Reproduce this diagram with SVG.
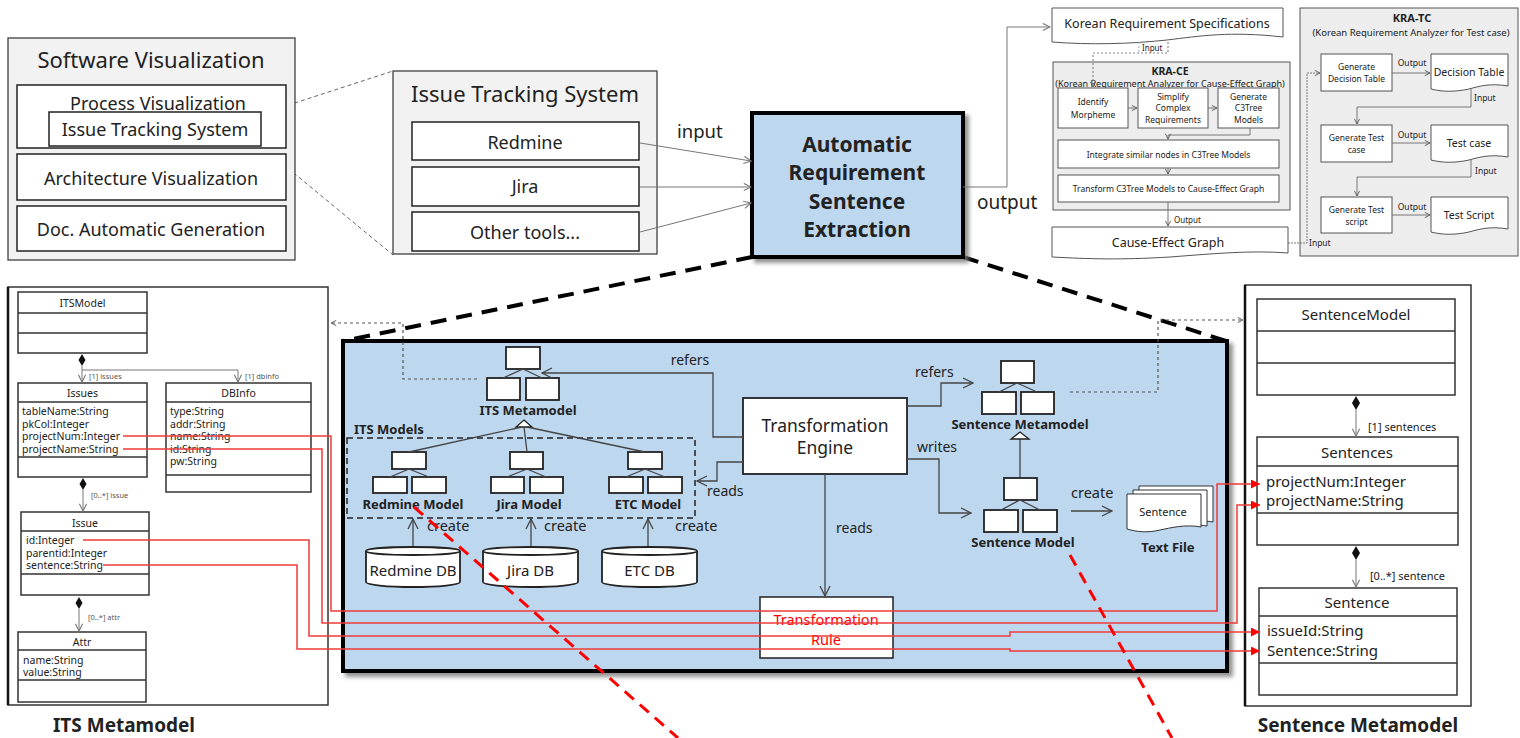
<svg xmlns="http://www.w3.org/2000/svg" width="1520" height="738" viewBox="0 0 1520 738">
<style>
text{font-family:"Noto Sans","DejaVu Sans",sans-serif;fill:#222}
.b{font-weight:bold}
.m{text-anchor:middle}
.panel{fill:#f2f2f2;stroke:#404040;stroke-width:1.3}
.kra{fill:#ededed;stroke:#555;stroke-width:1}
.wb{fill:#fff;stroke:#222;stroke-width:1.5}
.sb{fill:#fff;stroke:#555;stroke-width:1}
.uml{fill:#fff;stroke:#333;stroke-width:1.5}
.dv{stroke:#333;stroke-width:1.5}
.ln{fill:none;stroke:#444;stroke-width:1.3}
.gl{fill:none;stroke:#777;stroke-width:1}
.dot{fill:none;stroke:#555;stroke-width:1.2;stroke-dasharray:3 3}
.gd{fill:none;stroke:#666;stroke-width:1;stroke-dasharray:4 3}
.red{fill:none;stroke:#f03c3c;stroke-width:1.5}
.bd{fill:none;stroke:#000;stroke-width:4;stroke-dasharray:16 10}
.rd{fill:none;stroke:#f00;stroke-width:3;stroke-dasharray:12 8}
.ic{fill:#fff;stroke:#222;stroke-width:1.8}
.dia{fill:#111}
.sm{font-size:8.5px}
.rel{font-size:7.5px;fill:#555}
</style>
<defs>
<marker id="oa" viewBox="0 0 12 12" refX="11" refY="6" markerWidth="12" markerHeight="12" markerUnits="userSpaceOnUse" orient="auto"><path d="M1,1 L11,6 L1,11" fill="none" stroke="#444" stroke-width="1.3"/></marker>
<marker id="ga" viewBox="0 0 10 10" refX="9" refY="5" markerWidth="9" markerHeight="9" markerUnits="userSpaceOnUse" orient="auto"><path d="M1,1 L9,5 L1,9" fill="none" stroke="#777" stroke-width="1.2"/></marker>
<marker id="sa" viewBox="0 0 8 8" refX="7" refY="4" markerWidth="7" markerHeight="7" markerUnits="userSpaceOnUse" orient="auto"><path d="M1,1 L7,4 L1,7" fill="none" stroke="#555" stroke-width="1"/></marker>
<marker id="ra" viewBox="0 0 10 10" refX="10" refY="5" markerWidth="10" markerHeight="9" markerUnits="userSpaceOnUse" orient="auto"><path d="M0,0 L10,5 L0,10 Z" fill="#f00"/></marker>
<filter id="sh" x="-5%" y="-5%" width="115%" height="120%"><feDropShadow dx="4" dy="4" stdDeviation="2" flood-color="#777" flood-opacity="0.8"/></filter>
</defs>

<!-- zoom-out guides -->
<g id="guides">
<path class="gd" d="M261,114 L393,71 M261,146 L393,255"/>
<path class="bd" d="M752,257 L343,341 M963,257 L1226,341"/>
</g>

<g id="software-visualization">
<rect class="panel" x="8" y="38" width="287" height="222"/>
<text x="151" y="68" class="m" font-size="22">Software Visualization</text>
<rect class="wb" x="17" y="85" width="269" height="63"/>
<text x="158" y="110" class="m" font-size="18">Process Visualization</text>
<rect class="wb" x="49" y="112" width="212" height="34"/>
<text x="155" y="136" class="m" font-size="18">Issue Tracking System</text>
<rect class="wb" x="17" y="154" width="269" height="46"/>
<text x="151" y="185" class="m" font-size="18">Architecture Visualization</text>
<rect class="wb" x="17" y="206" width="269" height="45"/>
<text x="151" y="236" class="m" font-size="18">Doc. Automatic Generation</text>
</g>

<g id="issue-tracking-system">
<rect class="panel" x="393" y="71" width="264" height="183"/>
<text x="525" y="102" class="m" font-size="22">Issue Tracking System</text>
<rect class="wb" x="412" y="122" width="227" height="38"/>
<text x="525" y="149" class="m" font-size="18">Redmine</text>
<rect class="wb" x="412" y="167" width="227" height="39"/>
<text x="525" y="193" class="m" font-size="18">Jira</text>
<rect class="wb" x="412" y="212" width="227" height="39"/>
<text x="525" y="239" class="m" font-size="18">Other tools...</text>
</g>

<g id="main-extraction">
<rect x="752" y="113" width="211" height="144" fill="#bdd7ee" stroke="#000" stroke-width="4" filter="url(#sh)"/>
<text x="857" y="152" class="m b" font-size="21">Automatic</text>
<text x="857" y="180" class="m b" font-size="21">Requirement</text>
<text x="857" y="209" class="m b" font-size="21">Sentence</text>
<text x="857" y="237" class="m b" font-size="21">Extraction</text>
</g>

<g id="top-connectors">
<path class="gl" d="M640,143 L751,161" marker-end="url(#ga)"/>
<path class="gl" d="M640,187 L751,187" marker-end="url(#ga)"/>
<path class="gl" d="M640,232 L751,203" marker-end="url(#ga)"/>
<text x="677" y="138" font-size="18.5">input</text>
<path class="gl" d="M963,187 H1007 V27 H1050" marker-end="url(#ga)"/>
<text x="977" y="209" font-size="19">output</text>
</g>

<g id="korean-req-spec">
<path class="sb" d="M1052,8 H1283 V37 C1230,31 1200,36 1167,40 C1130,44 1090,45 1052,42 Z"/>
<text x="1167" y="28" class="m" font-size="12.5">Korean Requirement Specifications</text>
</g>

<g id="kra-ce">
<rect class="kra" x="1053" y="62" width="237" height="148"/>
<text x="1170" y="75" class="m b" font-size="10.5">KRA-CE</text>
<text x="1170" y="87" class="m" font-size="9">(Korean Requirement Analyzer for Cause-Effect Graph)</text>
<rect class="sb" x="1058" y="88" width="70" height="40"/>
<text x="1093" y="105" class="m sm">Identify</text>
<text x="1093" y="118" class="m sm">Morpheme</text>
<rect class="sb" x="1138" y="88" width="70" height="40"/>
<text x="1173" y="100" class="m sm">Simplify</text>
<text x="1173" y="111" class="m sm">Complex</text>
<text x="1173" y="123" class="m sm">Requirements</text>
<rect class="sb" x="1218" y="88" width="61" height="40"/>
<text x="1248.5" y="100" class="m sm">Generate</text>
<text x="1248.5" y="111" class="m sm">C3Tree</text>
<text x="1248.5" y="123" class="m sm">Models</text>
<rect class="sb" x="1058" y="140" width="221" height="28"/>
<text x="1168.5" y="158" class="m sm">Integrate similar nodes in C3Tree Models</text>
<rect class="sb" x="1058" y="175" width="221" height="27"/>
<text x="1168.5" y="192" class="m sm">Transform C3Tree Models to Cause-Effect Graph</text>
</g>

<g id="cause-effect-graph">
<path class="sb" d="M1052,227 H1288 V253 C1250,250 1210,254 1170,257 C1120,260 1090,259 1052,257 Z"/>
<text x="1168" y="247" class="m" font-size="12.5">Cause-Effect Graph</text>
</g>

<g id="kra-tc">
<rect class="kra" x="1300" y="8" width="218" height="248"/>
<text x="1412" y="22" class="m b" font-size="11">KRA-TC</text>
<text x="1411" y="36" class="m" font-size="9.5">(Korean Requirement Analyzer for Test case)</text>
<rect class="sb" x="1321" y="54" width="71" height="37"/>
<text x="1356.5" y="70" class="m sm">Generate</text>
<text x="1356.5" y="82" class="m sm">Decision Table</text>
<path class="sb" d="M1431,54 H1508 V86 C1490,83 1480,86 1469,89 C1455,92 1443,92 1431,89 Z"/>
<text x="1469" y="76" class="m" font-size="10.5">Decision Table</text>
<rect class="sb" x="1321" y="125" width="71" height="37"/>
<text x="1356.5" y="141" class="m sm">Generate Test</text>
<text x="1356.5" y="153" class="m sm">case</text>
<path class="sb" d="M1431,125 H1508 V157 C1490,154 1480,157 1469,160 C1455,163 1443,163 1431,160 Z"/>
<text x="1469" y="147" class="m" font-size="10.5">Test case</text>
<rect class="sb" x="1321" y="197" width="71" height="36"/>
<text x="1356.5" y="213" class="m sm">Generate Test</text>
<text x="1356.5" y="225" class="m sm">script</text>
<path class="sb" d="M1431,197 H1508 V229 C1490,226 1480,229 1469,232 C1455,235 1443,235 1431,232 Z"/>
<text x="1469" y="219" class="m" font-size="10.5">Test Script</text>
</g>

<g id="kra-connectors">
<path class="dot" d="M1168,42 V53 H1093 V87" marker-end="url(#sa)" style="stroke-dasharray:2 2;stroke:#888"/>
<path class="gl" d="M1139,42 V53" style="stroke-dasharray:2 2;stroke:#aaa"/>
<text x="1142" y="51" font-size="8" fill="#555">Input</text>
<path class="gl" d="M1128,108 H1137" marker-end="url(#sa)"/>
<path class="gl" d="M1208,108 H1217" marker-end="url(#sa)"/>
<path class="gl" d="M1250,128 V135 H1168 V139" marker-end="url(#sa)"/>
<path class="gl" d="M1168,168 V174" marker-end="url(#sa)"/>
<path class="gl" d="M1168,202 V226" marker-end="url(#sa)"/>
<text x="1174" y="223" font-size="8">Output</text>
<path class="gl" d="M1288,243 H1307 V73 H1320" marker-end="url(#sa)" style="stroke-dasharray:2 1"/>
<text x="1309" y="246" class="sm">Input</text>
<path class="gl" d="M1392,73 H1430" marker-end="url(#sa)"/>
<text x="1412" y="66" class="m sm">Output</text>
<path class="gl" d="M1471,89 V107 H1357 V124" marker-end="url(#sa)"/>
<text x="1474" y="101" class="sm">Input</text>
<path class="gl" d="M1392,143 H1430" marker-end="url(#sa)"/>
<text x="1412" y="138" class="m sm">Output</text>
<path class="gl" d="M1471,160 V177 H1357 V196" marker-end="url(#sa)"/>
<text x="1475" y="174" class="sm">Input</text>
<path class="gl" d="M1392,215 H1430" marker-end="url(#sa)"/>
<text x="1412" y="210" class="m sm">Output</text>
</g>

<g id="its-metamodel-panel">
<rect x="8" y="287" width="320" height="418" fill="#fff" stroke="#333" stroke-width="1.5"/>
<path d="M8,287 V705" stroke="#111" stroke-width="2.5"/>
<text x="124" y="732" class="m b" font-size="19">ITS Metamodel</text>
</g>
<g id="cls-itsmodel">
<rect class="uml" x="18" y="292" width="129" height="61"/>
<path class="dv" d="M18,313 H147 M18,333 H147"/>
<text x="82.5" y="307" class="m" font-size="10.5">ITSModel</text>
</g>
<g id="cls-issues">
<rect class="uml" x="18" y="383" width="129" height="94"/>
<path class="dv" d="M18,402 H147 M18,457 H147"/>
<text x="82.5" y="397" class="m" font-size="10.5">Issues</text>
<text x="22" y="415" font-size="10.5">tableName:String</text>
<text x="22" y="427.5" font-size="10.5">pkCol:Integer</text>
<text x="22" y="440" font-size="10.5">projectNum:Integer</text>
<text x="22" y="452.5" font-size="10.5">projectName:String</text>
</g>
<g id="cls-dbinfo">
<rect class="uml" x="166" y="383" width="145" height="109"/>
<path class="dv" d="M166,402 H311 M166,475 H311"/>
<text x="238.5" y="397" class="m" font-size="10.5">DBInfo</text>
<text x="170" y="415" font-size="10.5">type:String</text>
<text x="170" y="427.5" font-size="10.5">addr:String</text>
<text x="170" y="440" font-size="10.5">name:String</text>
<text x="170" y="452.5" font-size="10.5">id:String</text>
<text x="170" y="465" font-size="10.5">pw:String</text>
</g>
<g id="cls-issue">
<rect class="uml" x="21" y="512" width="128" height="83"/>
<path class="dv" d="M21,531 H149 M21,574 H149"/>
<text x="85" y="527" class="m" font-size="10.5">Issue</text>
<text x="26" y="544" font-size="10.5">id:Integer</text>
<text x="26" y="556.5" font-size="10.5">parentid:Integer</text>
<text x="26" y="569" font-size="10.5">sentence:String</text>
</g>
<g id="cls-attr">
<rect class="uml" x="18" y="632" width="128" height="70"/>
<path class="dv" d="M18,650 H146 M18,680 H146"/>
<text x="82" y="646" class="m" font-size="10.5">Attr</text>
<text x="23" y="664" font-size="10.5">name:String</text>
<text x="23" y="676" font-size="10.5">value:String</text>
</g>
<g id="its-relations">
<path class="dia" d="M82,354 L85.5,360 L82,366 L78.5,360 Z"/>
<path class="gl" d="M82,366 V382" marker-end="url(#ga)"/>
<path class="gl" d="M82,370 H238 V382" marker-end="url(#ga)"/>
<text x="89" y="379" class="rel">[1] issues</text>
<text x="245" y="379" class="rel">[1] dbinfo</text>
<path class="dia" d="M83,478 L86.5,484 L83,490 L79.5,484 Z"/>
<path class="gl" d="M83,490 V511" marker-end="url(#ga)"/>
<text x="91" y="498" class="rel">[0..*] issue</text>
<path class="dia" d="M79,597 L82.5,603 L79,609 L75.5,603 Z"/>
<path class="gl" d="M79,609 V631" marker-end="url(#ga)"/>
<text x="88" y="620" class="rel">[0..*] attr</text>
</g>

<g id="sentence-metamodel-panel">
<rect x="1245" y="285" width="226" height="421" fill="#fff" stroke="#333" stroke-width="1.5"/>
<path d="M1245,285 V706" stroke="#111" stroke-width="2.5"/>
<text x="1358" y="732" class="m b" font-size="19">Sentence Metamodel</text>
</g>
<g id="cls-sentencemodel">
<rect class="uml" x="1257" y="299" width="198" height="96"/>
<path class="dv" d="M1257,331 H1455 M1257,363 H1455"/>
<text x="1356" y="320" class="m" font-size="15">SentenceModel</text>
</g>
<g id="cls-sentences">
<rect class="uml" x="1257" y="437" width="201" height="108"/>
<path class="dv" d="M1257,466 H1458 M1257,513 H1458"/>
<text x="1357" y="458" class="m" font-size="15">Sentences</text>
<text x="1266" y="487" font-size="15">projectNum:Integer</text>
<text x="1266" y="506" font-size="15">projectName:String</text>
</g>
<g id="cls-sentence">
<rect class="uml" x="1259" y="588" width="198" height="107"/>
<path class="dv" d="M1259,616 H1457 M1259,663 H1457"/>
<text x="1357" y="608" class="m" font-size="15">Sentence</text>
<text x="1267" y="636" font-size="15">issueId:String</text>
<text x="1267" y="656" font-size="15">Sentence:String</text>
</g>
<g id="sentence-relations">
<path class="dia" d="M1356,396 L1360,403 L1356,410 L1352,403 Z"/>
<path class="gl" d="M1356,410 V436" marker-end="url(#ga)"/>
<text x="1368" y="431" font-size="11" fill="#555">[1] sentences</text>
<path class="dia" d="M1356,546 L1360,553 L1356,560 L1352,553 Z"/>
<path class="gl" d="M1356,560 V587" marker-end="url(#ga)"/>
<text x="1370" y="580" font-size="11" fill="#555">[0..*] sentence</text>
</g>

<g id="transformation-panel">
<rect x="343" y="341" width="884" height="330" fill="#bdd7ee" stroke="#000" stroke-width="4" filter="url(#sh)"/>
</g>

<g id="its-metamodel-icon">
<rect class="ic" x="506" y="347" width="34" height="22"/>
<rect class="ic" x="487" y="378" width="33" height="22"/>
<rect class="ic" x="526" y="378" width="33" height="22"/>
<path class="ln" d="M523,369 L503,378 M523,369 L542,378"/>
<text x="528" y="415" class="m b" font-size="13">ITS Metamodel</text>
<path d="M524,420 L532,427 L516,427 Z" fill="#fff" stroke="#222" stroke-width="1.3"/>
</g>
<g id="its-models">
<rect x="347" y="438" width="348" height="80" fill="none" stroke="#222" stroke-width="1.5" stroke-dasharray="6 4"/>
<text x="354" y="434" class="b" font-size="13">ITS Models</text>
</g>
<g id="redmine-model">
<rect class="ic" x="392" y="452" width="34" height="17"/>
<rect class="ic" x="373" y="477" width="34" height="16"/>
<rect class="ic" x="412" y="477" width="34" height="16"/>
<path class="ln" d="M409,469 L390,477 M409,469 L429,477"/>
<text x="413" y="509" class="m b" font-size="13">Redmine Model</text>
</g>
<g id="jira-model">
<rect class="ic" x="510" y="452" width="33" height="17"/>
<rect class="ic" x="491" y="477" width="33" height="16"/>
<rect class="ic" x="530" y="477" width="33" height="16"/>
<path class="ln" d="M527,469 L507,477 M527,469 L546,477"/>
<text x="529" y="509" class="m b" font-size="13">Jira Model</text>
</g>
<g id="etc-model">
<rect class="ic" x="628" y="452" width="34" height="17"/>
<rect class="ic" x="609" y="477" width="34" height="16"/>
<rect class="ic" x="648" y="477" width="34" height="16"/>
<path class="ln" d="M645,469 L626,477 M645,469 L665,477"/>
<text x="648" y="509" class="m b" font-size="13">ETC Model</text>
</g>
<g id="redmine-db">
<path d="M366,551 V582 A47,5 0 0 0 460,582 V551" fill="#fff" stroke="#222" stroke-width="1.8"/>
<ellipse cx="413" cy="551" rx="47" ry="4" fill="#fff" stroke="#222" stroke-width="1.8"/>
<text x="413" y="576" class="m" font-size="15">Redmine DB</text>
</g>
<g id="jira-db">
<path d="M483,551 V582 A47.5,5 0 0 0 578,582 V551" fill="#fff" stroke="#222" stroke-width="1.8"/>
<ellipse cx="530.5" cy="551" rx="47.5" ry="4" fill="#fff" stroke="#222" stroke-width="1.8"/>
<text x="530.5" y="576" class="m" font-size="15">Jira DB</text>
</g>
<g id="etc-db">
<path d="M602,551 V582 A47.5,5 0 0 0 697,582 V551" fill="#fff" stroke="#222" stroke-width="1.8"/>
<ellipse cx="649.5" cy="551" rx="47.5" ry="4" fill="#fff" stroke="#222" stroke-width="1.8"/>
<text x="649.5" y="576" class="m" font-size="15">ETC DB</text>
</g>
<g id="transformation-engine">
<rect x="743" y="398" width="164" height="76" fill="#fff" stroke="#222" stroke-width="1.8"/>
<text x="825" y="432" class="m" font-size="17.5">Transformation</text>
<text x="825" y="454" class="m" font-size="17.5">Engine</text>
</g>
<g id="transformation-rule">
<rect x="760" y="597" width="133" height="61" fill="#fff" stroke="#222" stroke-width="1.5"/>
<text x="826" y="625" class="m" font-size="14.5" style="fill:#f00">Transformation</text>
<text x="826" y="645" class="m" font-size="14.5" style="fill:#f00">Rule</text>
</g>
<g id="sentence-metamodel-icon">
<rect class="ic" x="1001" y="361" width="33" height="22"/>
<rect class="ic" x="982" y="392" width="34" height="22"/>
<rect class="ic" x="1021" y="392" width="33" height="22"/>
<path class="ln" d="M1017,383 L999,392 M1017,383 L1037,392"/>
<text x="1020" y="429" class="m b" font-size="13">Sentence Metamodel</text>
<path class="ln" d="M1020,439 V478"/>
<path d="M1020,432 L1029,439 L1011,439 Z" fill="#fff" stroke="#222" stroke-width="1.3"/>
</g>
<g id="sentence-model">
<rect class="ic" x="1004" y="478" width="33" height="22"/>
<rect class="ic" x="984" y="510" width="34" height="22"/>
<rect class="ic" x="1023" y="510" width="34" height="22"/>
<path class="ln" d="M1020,500 L1001,510 M1020,500 L1040,510"/>
<text x="1023" y="547" class="m b" font-size="13">Sentence Model</text>
</g>
<g id="text-file">
<path d="M1139,486 H1213 V522 C1195,519 1180,524 1139,524 Z" fill="#fff" stroke="#333" stroke-width="1"/>
<path d="M1133,490 H1207 V526 C1189,523 1174,528 1133,528 Z" fill="#fff" stroke="#333" stroke-width="1"/>
<path d="M1127,494 H1201 V527 C1185,524 1170,528 1160,530 C1148,533 1137,532 1127,529 Z" fill="#fff" stroke="#333" stroke-width="1"/>
<text x="1163" y="516" class="m" font-size="11">Sentence</text>
<text x="1168" y="552" class="m b" font-size="13">Text File</text>
</g>

<g id="connectors">
<path class="dot" d="M477,379 H403 V323 H331" marker-end="url(#sa)"/>
<path class="dot" d="M1070,392 H1158 V320 H1243" marker-end="url(#sa)"/>
<path class="ln" d="M743,437 H713 V373 H542" marker-end="url(#oa)"/>
<text x="690" y="365" class="m" font-size="14">refers</text>
<path class="ln" d="M743,462 H717 V481 H697" marker-end="url(#oa)"/>
<text x="707" y="496" font-size="14">reads</text>
<path class="ln" d="M907,406 H941 V383 H973" marker-end="url(#oa)"/>
<text x="915" y="377" font-size="14">refers</text>
<path class="ln" d="M907,459 H939 V513 H971" marker-end="url(#oa)"/>
<text x="917" y="452" font-size="14">writes</text>
<path class="ln" d="M825,474 V596" marker-end="url(#oa)"/>
<text x="836" y="533" font-size="14">reads</text>
<path class="ln" d="M1071,511 H1112" marker-end="url(#oa)"/>
<text x="1071" y="498" font-size="14.5">create</text>
<path class="ln" d="M413,546 V519" marker-end="url(#oa)"/>
<text x="427" y="531" font-size="14.5">create</text>
<path class="ln" d="M531,546 V519" marker-end="url(#oa)"/>
<text x="544" y="531" font-size="14.5">create</text>
<path class="ln" d="M648,546 V519" marker-end="url(#oa)"/>
<text x="675" y="531" font-size="14.5">create</text>
<path class="ln" d="M409,452 L522,427 M527,452 L524,427 M645,452 L527,427"/>
</g>

<g id="attribute-mappings">
<path class="red" d="M123,436 H331 V611 H1217 V484 H1260" marker-end="url(#ra)"/>
<path class="red" d="M123,449 H322 V623 H1237 V505 H1260" marker-end="url(#ra)"/>
<path class="red" d="M83,540 H309 V636 H1010 V632 H1260" marker-end="url(#ra)"/>
<path class="red" d="M103,565 H297 V649 H1010 V651 H1260" marker-end="url(#ra)"/>
</g>

<g id="detail-guides">
<path class="rd" d="M414,507 L678,738"/>
<path class="rd" d="M1070,555 L1172,738"/>
</g>
</svg>
